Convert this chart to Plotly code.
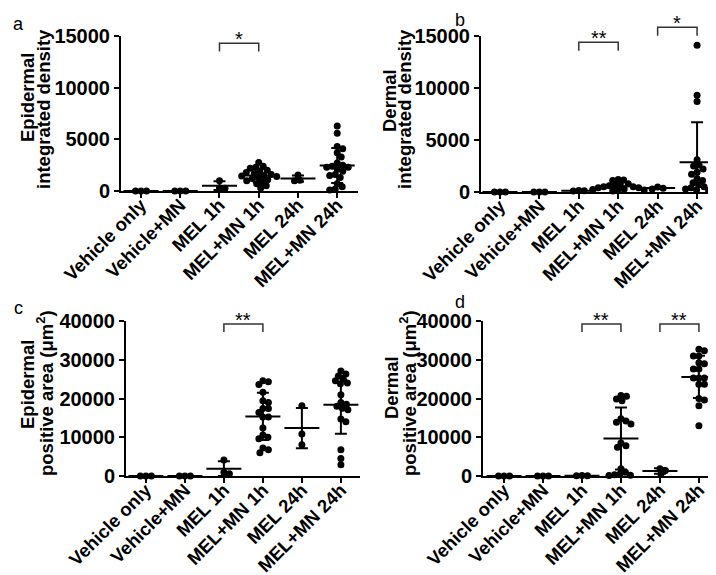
import numpy as np
import plotly.graph_objects as go

W, H = 716, 575

categories = ["Vehicle only", "Vehicle+MN", "MEL 1h", "MEL+MN 1h", "MEL 24h", "MEL+MN 24h"]

# Panel a: epidermal integrated density
epi_density = [
    [0, 0, 0],
    [0, 0, 0],
    [1000, 300, 260],
    [2750, 2400, 2300, 2200, 2000, 1900, 1800, 1700, 1600, 1500, 1450, 1400, 1300, 1200, 1100, 1000, 900, 700, 500, 300],
    [1550, 1000, 1050],
    [6300, 5600, 4300, 4100, 3700, 3300, 2700, 2500, 2400, 2300, 2300, 2100, 1900, 1600, 1500, 1300, 700, 400, 200, 100],
]
# Panel b: dermal integrated density
der_density = [
    [0, 0, 0],
    [0, 0, 0],
    [150, 100, 120],
    [1200, 1150, 1100, 800, 700, 600, 600, 500, 500, 400, 400, 300, 250, 200, 150, 100],
    [480, 350, 300],
    [14100, 9300, 8700, 3100, 2600, 2500, 2200, 1900, 1700, 1300, 1100, 900, 700, 500, 400, 300, 200, 150],
]
# Panel c: epidermal positive area
epi_area = [
    [0, 0, 0],
    [0, 0, 0],
    [4100, 1000, 600],
    [24600, 24300, 23600, 21600, 19400, 19000, 17400, 17400, 16400, 15200, 15200, 12400, 10600, 10000, 9600, 7200, 6800, 6000],
    [18150, 10840, 8080],
    [27100, 26300, 25800, 25000, 24600, 24000, 23800, 21000, 19000, 18500, 18000, 17500, 17100, 14700, 14000, 6800, 4500, 2900],
]
# Panel d: dermal positive area
der_area = [
    [0, 0, 0],
    [0, 0, 0],
    [100, 50, 80],
    [20800, 20600, 19900, 19400, 14800, 14200, 13900, 13400, 8500, 7800, 7400, 1900, 1000, 500, 300, 200, 100],
    [1900, 1400, 500],
    [32700, 32300, 31000, 31000, 29200, 29000, 27600, 27600, 25300, 25300, 25300, 23700, 23700, 20000, 19600, 18150, 13000],
]

ytick_a = [0, 5000, 10000, 15000]
ytick_c = [0, 10000, 20000, 30000, 40000]

FONT = "Liberation Sans, Arial, sans-serif"

panels = [
    dict(data=epi_density, xdom=(113, 350), ydom=(28, 183), xr=(-0.51, 5.53), yr=(0, 15000), ticks=ytick_a,
         titles=[("Epidermal", 20, 90), ("integrated density", 36, 101)], letter="a", lx=10, ly=16,
         brackets=[(2, 3, "*", 14300, 13500)]),
    dict(data=der_density, xdom=(473, 708), ydom=(28, 184), xr=(-0.48, 5.48), yr=(0, 15000), ticks=ytick_a,
         titles=[("Dermal", 381, 92), ("integrated density", 397, 101)], letter="b", lx=452, ly=12,
         brackets=[(2, 3, "**", 14390, 13590), (4, 5, "*", 15840, 15030)]),
    dict(data=epi_area, xdom=(118, 352), ydom=(313, 468), xr=(-0.51, 5.49), yr=(0, 40000), ticks=ytick_c,
         titles=[("Epidermal", 20, 377), ("positive area (μm<sup>2</sup>)", 37, 385)], letter="c", lx=10, ly=300,
         brackets=[(2, 3, "**", 39230, 37160)]),
    dict(data=der_area, xdom=(475, 710), ydom=(313, 468), xr=(-0.54, 5.49), yr=(0, 40000), ticks=ytick_c,
         titles=[("Dermal", 383, 380), ("positive area (μm<sup>2</sup>)", 400, 385)], letter="d", lx=452, ly=294,
         brackets=[(2, 3, "**", 39230, 37160), (4, 5, "**", 39230, 37160)]),
]


def swarm(vals, px_per_y, d=5.5, step=0.5):
    vals = np.asarray(vals, float)
    ypx = vals * px_per_y
    order = np.argsort(-vals, kind="stable")
    placed = []
    offs = np.zeros(len(vals))
    cands = [0.0]
    for k in range(1, 200):
        cands += [k * step, -k * step]
    for i in order:
        for c in cands:
            ok = True
            for (px, py) in placed:
                if (c - px) ** 2 + (ypx[i] - py) ** 2 < d * d - 1e-9:
                    ok = False
                    break
            if ok:
                offs[i] = c
                placed.append((c, ypx[i]))
                break
    return offs


fig = go.Figure()
layout = dict(width=W, height=H, autosize=False, margin=dict(l=0, r=0, t=0, b=0, pad=0),
              paper_bgcolor="white", plot_bgcolor="white", showlegend=False,
              annotations=[], shapes=[], template="none")

for p_i, p in enumerate(panels):
    sfx = "" if p_i == 0 else str(p_i + 1)
    xa, ya = "x" + sfx, "y" + sfx
    x0, x1 = p["xdom"]
    yt, yb = p["ydom"]
    xr0, xr1 = p["xr"]
    yr0, yr1 = p["yr"]
    px_per_x = (x1 - x0) / (xr1 - xr0)
    px_per_y = (yb - yt) / (yr1 - yr0)
    ydom = (1 - yb / H, 1 - yt / H)
    xdom = (x0 / W, x1 / W)

    def to_px(v):  # data -> paper (x)
        return xdom[0] + (v - xr0) / (xr1 - xr0) * (xdom[1] - xdom[0])

    def to_py(v):  # data -> paper (y)
        return ydom[0] + (v - yr0) / (yr1 - yr0) * (ydom[1] - ydom[0])

    for g, vals in enumerate(p["data"]):
        offs = swarm(vals, px_per_y) / px_per_x
        fig.add_trace(go.Scatter(
            x=g + offs, y=vals, mode="markers", xaxis=xa, yaxis=ya, cliponaxis=False,
            marker=dict(size=7, color="black", line=dict(width=0)), hoverinfo="y"))
        m = float(np.mean(vals))
        sd = float(np.std(vals, ddof=1))
        fig.add_trace(go.Scatter(
            x=[g], y=[m], mode="markers", xaxis=xa, yaxis=ya, cliponaxis=True,
            marker=dict(symbol="line-ew", size=25, line=dict(width=2, color="black"), color="black"),
            error_y=dict(type="data", array=[sd], visible=True, width=6, thickness=2, color="black"),
            hoverinfo="y"))
    xfont = dict(family=FONT, size=18.5, color="black", weight="bold")
    yfont = dict(family=FONT, size=20, color="black", weight="bold")
    layout["xaxis" + sfx] = dict(
        domain=list(xdom), range=[xr0, xr1], anchor=ya, automargin=False,
        tickvals=list(range(len(categories))), ticktext=categories, tickangle=-45,
        ticklabelstandoff=-11,
        showline=True, linewidth=2, linecolor="black", ticks="outside", ticklen=5, tickwidth=2,
        tickcolor="black", showgrid=False, zeroline=False, tickfont=xfont, fixedrange=True)
    layout["yaxis" + sfx] = dict(
        domain=list(ydom), range=[yr0, yr1], anchor=xa, automargin=False,
        tickvals=p["ticks"], tickformat="d", showline=True, linewidth=2, linecolor="black",
        ticks="outside", ticklen=5, tickwidth=2, tickcolor="black", showgrid=False,
        zeroline=False, tickfont=yfont, fixedrange=True)
    for (txt, tx, ty) in p["titles"]:
        layout["annotations"].append(dict(
            text=txt, x=tx / W, y=1 - ty / H, xref="paper", yref="paper",
            textangle=-90, showarrow=False, xanchor="center", yanchor="middle",
            font=dict(family=FONT, size=18.5, color="black", weight="bold")))
    layout["annotations"].append(dict(
        text=p["letter"], x=p["lx"] / W, y=1 - p["ly"] / H, xref="paper", yref="paper",
        showarrow=False, xanchor="center", yanchor="middle",
        font=dict(family=FONT, size=18, color="black")))
    for (a, b, lab, ytop, yleg) in p["brackets"]:
        pa, pb = to_px(a), to_px(b)
        pt, pl = to_py(ytop), to_py(yleg)
        layout["shapes"].append(dict(
            type="path", xref="paper", yref="paper",
            path=f"M {pa},{pl} L {pa},{pt} L {pb},{pt} L {pb},{pl}",
            line=dict(color="#333333", width=1.5)))
        layout["annotations"].append(dict(
            text=lab, x=(pa + pb) / 2, y=pt, xref="paper", yref="paper", showarrow=False,
            xanchor="center", yanchor="middle", yshift=4,
            font=dict(family=FONT, size=20, color="black")))

fig.update_layout(**layout)
fig.write_html("out.html")
